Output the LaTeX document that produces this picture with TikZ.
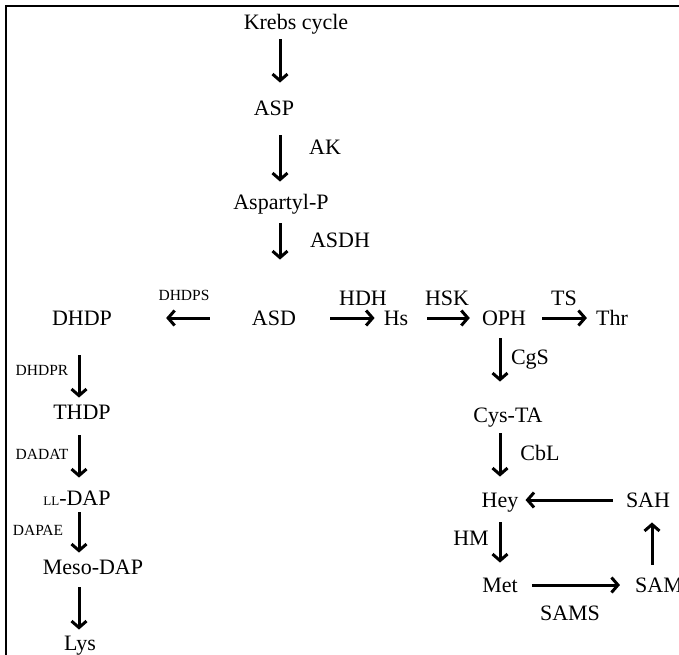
\documentclass[tikz,border=0pt]{standalone}
\usepackage{fontspec}
\setmainfont{Liberation Serif}
\usetikzlibrary{arrows.meta}

\begin{document}
\begin{tikzpicture}[x=1pt, y=-1pt,
    metab/.style={inner sep=0pt, text height=14.5pt, text depth=0pt,
                  font=\fontsize{22}{26}\selectfont},
    enzsmall/.style={inner sep=0pt, text height=10.3pt, text depth=0pt,
                  font=\fontsize{15.5}{18}\selectfont},
    arr/.style={line width=3pt, -{Straight Barb[length=6.5pt,width=15pt]}}]

    \useasboundingbox (0,0) rectangle (679,654);
    \clip (0,0) rectangle (679,654);

    % Frame
    \draw[line width=1.8pt] (6,700) -- (6,6) -- (700,6);

    % Columns for the vertical arrows
    \coordinate (colA) at (280,0);
    \coordinate (colL) at (79,0);
    \coordinate (colR) at (500,0);
    \coordinate (colS) at (652,0);

    % Main column
    \node[metab] (krebs) at (296,22) {Krebs cycle};
    \node[metab] (asp) at (274,108) {ASP};
    \node[metab] (ak) at (325,147) {AK};
    \node[metab] (aspp) at (281,202) {Aspartyl-P};
    \node[metab] (asdh) at (340,240) {ASDH};

    % Branch row
    \node[metab] (asd) at (274,318) {ASD};
    \node[metab] (dhdp) at (82,318) {DHDP};
    \node[enzsmall] (dhdps) at (184,295) {DHDPS};
    \node[metab] (hdh) at (363,298) {HDH};
    \node[metab] (hs) at (396,318) {Hs};
    \node[metab] (hsk) at (447,298) {HSK};
    \node[metab] (oph) at (504,318) {OPH};
    \node[metab] (ts) at (564,298) {TS};
    \node[metab] (thr) at (612,318) {Thr};

    % Lysine branch
    \node[enzsmall] (dhdpr) at (42,370) {DHDPR};
    \node[metab] (thdp) at (82,412) {THDP};
    \node[enzsmall] (dadat) at (42,454) {DADAT};
    \node[metab] (lldap) at (77,498) {{\fontsize{13}{13}\selectfont LL}-DAP};
    \node[enzsmall] (dapae) at (38,530) {DAPAE};
    \node[metab] (meso) at (93,567) {Meso-DAP};
    \node[metab] (lys) at (80,643) {Lys};

    % Methionine branch
    \node[metab] (cgs) at (530,357) {CgS};
    \node[metab] (cysta) at (508,415) {Cys-TA};
    \node[metab] (cbl) at (540,453) {CbL};
    \node[metab] (hey) at (500,500) {Hey};
    \node[metab] (sah) at (648,500) {SAH};
    \node[metab] (hm) at (471,538) {HM};
    \node[metab] (met) at (500,585) {Met};
    \node[metab] (sam) at (659,585) {SAM};
    \node[metab] (sams) at (570,613) {SAMS};

    % Arrows
    \draw[arr, shorten <=10pt, shorten >=18pt] (krebs.south -| colA) -- (asp.north -| colA);
    \draw[arr, shorten <=20pt, shorten >=13pt] (asp.south -| colA) -- (aspp.north -| colA);
    \draw[arr, shorten <=14pt, shorten >=51pt] (aspp.south -| colA) -- (asd.north -| colA);

    \draw[arr, shorten <=42pt, shorten >=54pt] (asd.west) -- (dhdp.east);
    \draw[arr, shorten <=34pt, shorten >=9pt] (asd.east) -- (hs.west);
    \draw[arr, shorten <=19pt, shorten >=12pt] (hs.east) -- (oph.west);
    \draw[arr, shorten <=16pt, shorten >=9pt] (oph.east) -- (thr.west);

    \draw[arr, shorten <=30pt, shorten >=7pt] (dhdp.south -| colL) -- (thdp.north -| colL);
    \draw[arr, shorten <=16pt, shorten >=13pt] (thdp.south -| colL) -- (lldap.north -| colL);
    \draw[arr, shorten <=7pt, shorten >=7pt] (lldap.south -| colL) -- (meso.north -| colL);
    \draw[arr, shorten <=13pt, shorten >=6pt] (meso.south -| colL) -- (lys.north -| colL);

    \draw[arr, shorten <=13pt, shorten >=26pt] (oph.south -| colR) -- (cysta.north -| colR);
    \draw[arr, shorten <=11pt, shorten >=16pt] (cysta.south -| colR) -- (hey.north -| colR);
    \draw[arr, shorten <=13pt, shorten >=7pt] (sah.west) -- (hey.east);
    \draw[arr, shorten <=15pt, shorten >=15pt] (hey.south -| colR) -- (met.north -| colR);
    \draw[arr, shorten <=14pt, shorten >=15pt] (met.east) -- (sam.west);
    \draw[arr, shorten <=13pt, shorten >=15pt] (sam.north -| colS) -- (sah.south -| colS);
\end{tikzpicture}
\end{document}
